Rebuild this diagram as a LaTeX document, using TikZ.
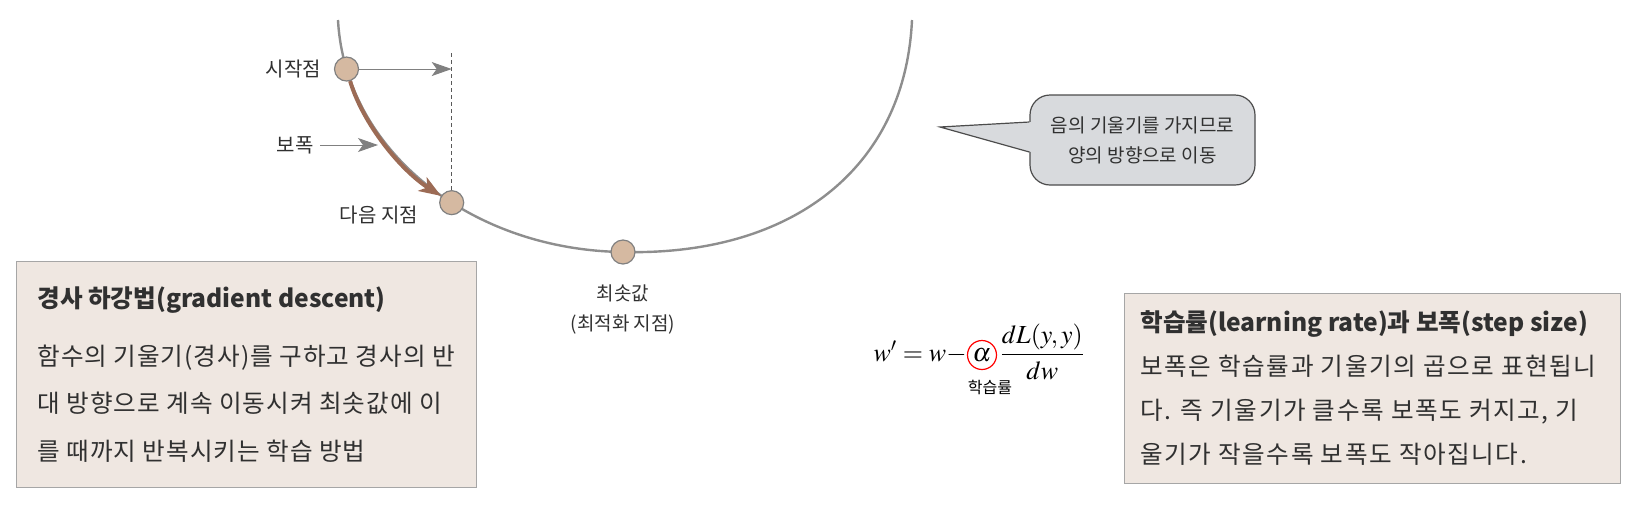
\documentclass[tikz,border=0pt]{standalone}
\usepackage{amsmath}
\usepackage{mathptmx}
\usepackage[no-math]{fontspec}
\setmainfont{Noto Sans CJK KR}
\usetikzlibrary{positioning, arrows.meta}

\definecolor{curvegray}{HTML}{8E8E8E}
\definecolor{dotfill}{HTML}{D5B9A1}
\definecolor{stepbrown}{HTML}{9C6B55}
\definecolor{boxfill}{HTML}{EFE7E1}
\definecolor{notefill}{HTML}{D8DADD}
\definecolor{textgray}{HTML}{303030}

\tikzset{
	curve/.style={draw=curvegray, line width=1.2pt}, % the cost curve
	dot/.style={circle, draw=gray, fill=dotfill, line width=0.6pt, minimum size=12pt, inner sep=0pt},
	lbl/.style={text=textgray, font=\fontsize{10}{15}\selectfont, align=center},
	hint/.style={draw=gray, line width=0.5pt, -{Stealth[length=10pt, width=7pt, inset=2.5pt]}},
	guide/.style={draw=gray!70!black, line width=0.5pt, dash pattern=on 2pt off 1.5pt},
	steparrow/.style={draw=stepbrown, line width=2pt, -{Stealth[length=11pt, width=8pt, inset=3pt]}},
	note/.style={draw=gray!60!black, fill=notefill, line width=0.6pt, rounded corners=10pt,
		minimum width=112.5pt, minimum height=45pt, align=center, text=textgray,
		font=\fontsize{9.5}{15}\selectfont},
	noteline/.style={draw=gray!60!black, line width=0.6pt, line join=miter},
	infobox/.style={draw=gray!70, fill=boxfill, line width=0.5pt},
	infotext/.style={anchor=north west, inner sep=0pt, align=left, text=textgray},
	formula/.style={inner sep=0pt, font=\fontsize{13}{15}\selectfont},
	ring/.style={circle, draw=red, line width=0.6pt, minimum size=14.5pt, inner sep=0pt, font=\fontsize{13}{15}\selectfont},
	small/.style={font=\fontsize{8}{10}\selectfont, inner sep=1pt},
}

\begin{document}
\begin{tikzpicture}[x=0.5pt, y=-0.5pt]
	\useasboundingbox (0,0) rectangle (1646,527);

	% cost curve with the three points on it
	\draw[curve] (338,20) .. controls (345,150) and (470,250) .. (623,252)
		node[dot, pos=0.13] (start) {}
		node[dot, pos=0.58] (next) {}
		node[dot] (min) {}
		.. controls (790,256) and (905,170) .. (912,20);

	\node[lbl, left=3pt of start] (startlbl) {시작점};
	\node[lbl, left=7pt of next, yshift=-6pt] (nextlbl) {다음 지점};
	\node[lbl, below=6.5pt of min, font=\fontsize{9.5}{15}\selectfont] (minlbl) {최솟값\\(최적화 지점)};

	\coordinate (above) at (next.north |- start);
	\draw[guide] ([yshift=8pt]above) -- (next);
	\draw[hint] (start) -- (above);
	% the step follows the curve
	\draw[steparrow] (start) .. controls (362.8,123.5) and (400.5,170.2) .. (next);

	\node[lbl] (steplbl) at (295,145) {보폭};
	\coordinate (stephit) at (378,145);
	\draw[hint] (steplbl) -- (stephit);

	% speech bubble
	\node[note] (note) at (1142.5,140) {음의 기울기를 가지므로\\양의 방향으로 이동};
	\coordinate (tip) at (940,127);
	\fill[notefill] (tip) -- ([xshift=1pt, yshift=9pt]note.west) -- ([xshift=1pt, yshift=-6pt]note.west) -- cycle;
	\draw[noteline] ([yshift=9pt]note.west) -- (tip) -- ([yshift=-6pt]note.west);

	% update rule
	\node[ring] (alpha) at (982,355) {$\alpha$};
	\node[formula, anchor=base east] (lhs) at (alpha.base west) {$w' = w -$};
	\node[formula, anchor=base west, xshift=1pt] (frac) at (alpha.base east) {$\dfrac{dL(y,y)}{dw}$};
	\node[small, below=4pt of alpha, xshift=4pt] (lrlbl) {학습률};

	% explanation boxes
	\node[infobox, minimum width=230pt, minimum height=113pt] (gd) at (246,374) {};
	\node[infotext, font=\fontsize{12.3}{23.7}\selectfont] (gdtext) at (37,286)
		{\textbf{경사 하강법(gradient descent)}\\[5.5pt]
		\addfontfeature{LetterSpace=4}함수의 기울기(경사)를 구하고 경사의 반\\
		\addfontfeature{LetterSpace=4}대 방향으로 계속 이동시켜 최솟값에 이\\
		\addfontfeature{LetterSpace=4}를 때까지 반복시키는 학습 방법};

	\node[infobox, minimum width=248pt, minimum height=95pt] (lr) at (1372,388) {};
	\node[infotext, font=\fontsize{12.3}{22}\selectfont] (lrtext) at (1140,310)
		{\textbf{학습률(learning rate)과 보폭(step size)}\\
		\addfontfeature{LetterSpace=6.4}보폭은 학습률과 기울기의 곱으로 표현됩니\\
		\addfontfeature{LetterSpace=6.4}다. 즉 기울기가 클수록 보폭도 커지고, 기\\
		\addfontfeature{LetterSpace=6.4}울기가 작을수록 보폭도 작아집니다.};
\end{tikzpicture}
\end{document}
